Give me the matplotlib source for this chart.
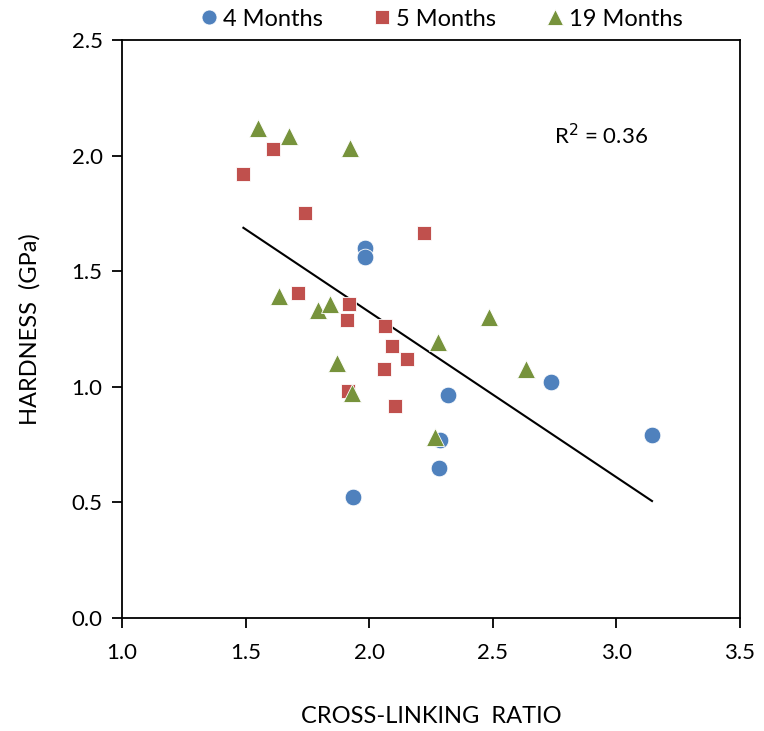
import numpy as np
import matplotlib
matplotlib.use("Agg")
import matplotlib.pyplot as plt

plt.rcParams['font.family'] = ['Lato', 'DejaVu Sans']

x4 = [1.983, 1.983, 2.318, 2.735, 3.144, 2.286, 2.281, 1.933]
y4 = [1.600, 1.561, 0.963, 1.021, 0.792, 0.770, 0.648, 0.525]

x5 = [1.491, 1.610, 1.740, 2.222, 1.711, 1.918, 1.911, 2.064, 2.091, 2.154, 2.059, 1.913, 2.104]
y5 = [1.920, 2.027, 1.753, 1.667, 1.404, 1.359, 1.288, 1.264, 1.176, 1.122, 1.077, 0.980, 0.918]

x19 = [1.551, 1.676, 1.924, 1.634, 1.794, 1.843, 1.869, 1.930, 2.278, 2.485, 2.267, 2.633]
y19 = [2.121, 2.086, 2.034, 1.393, 1.332, 1.358, 1.102, 0.972, 1.195, 1.303, 0.781, 1.076]

xticks = [1.0, 1.5, 2.0, 2.5, 3.0, 3.5]
yticks = [0.0, 0.5, 1.0, 1.5, 2.0, 2.5]

fig = plt.figure(figsize=(7.64, 7.31), dpi=100)
ax = fig.add_axes([0.1597, 0.1546, 0.8089, 0.7907])

c4, c5, c19 = '#4F81BD', '#C0504D', '#77933C'
ax.plot(x4, y4, 'o', color=c4, markersize=12, markeredgewidth=0.6, markeredgecolor='white', label='4 Months', zorder=3)
ax.plot(x5, y5, 's', color=c5, markersize=10.5, markeredgewidth=0.6, markeredgecolor='white', label='5 Months', zorder=3)
ax.plot(x19, y19, '^', color=c19, markersize=12.5, markeredgewidth=0.6, markeredgecolor='white', label='19 Months', zorder=3)

allx = np.array(x4 + x5 + x19)
ally = np.array(y4 + y5 + y19)
m, b = np.polyfit(allx, ally, 1)
xl = np.array([allx.min(), allx.max()])
ax.plot(xl, m * xl + b, color='black', linewidth=1.5, zorder=2)

ax.text(0.775, 0.835, 'R$^2$ = 0.36', transform=ax.transAxes, fontsize=16, ha='center', va='center')

ax.set_xlim(1.0, 3.5)
ax.set_ylim(0.0, 2.5)
ax.set_xticks(xticks)
ax.set_yticks(yticks)
ax.set_xticklabels([f'{v:.1f}' for v in xticks])
ax.set_yticklabels([f'{v:.1f}' for v in yticks])
ax.tick_params(direction='out', length=7, width=1.3, labelsize=16, pad=11)
ax.tick_params(axis='y', pad=7)
for s in ax.spines.values():
    s.set_linewidth(1.3)

ax.set_xlabel('CROSS-LINKING  RATIO', fontsize=17, labelpad=31)
ax.set_ylabel('HARDNESS  (GPa)', fontsize=17, labelpad=22)

leg = fig.legend(loc='center', bbox_to_anchor=(0.576, 0.974), ncol=3, frameon=False,
                 fontsize=17, handletextpad=0.1, columnspacing=2.0, markerscale=0.9,
                 handlelength=1.0)

fig.savefig('out.png', dpi=100)
